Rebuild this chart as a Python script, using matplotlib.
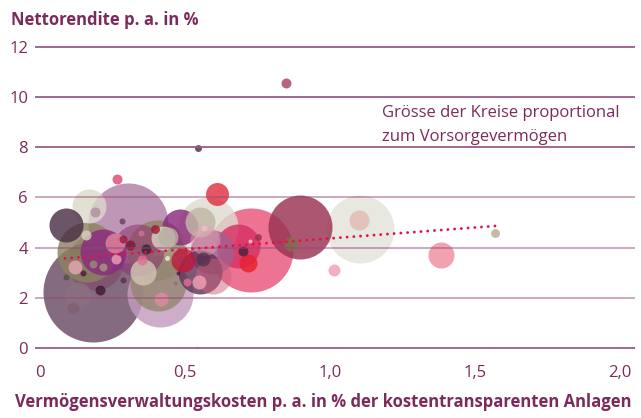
import matplotlib
matplotlib.use("Agg")
import matplotlib.pyplot as plt
import numpy as np

# Vermögensverwaltungskosten p. a. in % (x), Nettorendite p. a. in % (y),
# Vorsorgevermögen (relative, proportional to circle area)
kosten = [0.183, 0.303, 0.414, 0.403, 0.407, 0.190, 0.338, 0.162, 0.728, 1.103,
          0.897, 0.579, 0.217, 0.683, 0.593, 0.552, 0.483, 0.597, 0.552, 0.569,
          0.169, 0.090, 0.131, 0.355, 0.424, 0.493, 0.610, 1.383, 0.259, 1.100,
          0.441, 0.717, 0.866, 0.114, 0.121, 0.562, 0.548, 0.417, 1.014, 0.262,
          0.207, 0.366, 0.310, 0.352, 0.848, 0.266, 0.700, 0.159, 0.190, 0.397,
          1.569, 0.183, 0.217, 0.507, 0.286, 0.545, 0.752, 0.148, 0.090, 0.286,
          0.283, 0.348, 0.566, 0.438, 0.724, 0.466, 0.476, 0.483, 0.541]
rendite = [2.23, 4.98, 2.15, 3.90, 2.59, 3.43, 3.90, 3.82, 3.90, 4.74,
           4.82, 4.82, 3.82, 4.06, 3.82, 3.03, 4.82, 2.87, 5.02, 4.30,
           5.66, 4.90, 2.11, 3.03, 4.38, 3.51, 6.14, 3.71, 4.18, 5.10,
           4.42, 3.39, 4.14, 1.59, 3.23, 3.55, 2.63, 1.95, 3.11, 3.55,
           2.31, 3.94, 4.10, 3.51, 10.56, 6.73, 3.86, 4.50, 5.42, 4.74,
           4.58, 3.35, 3.23, 2.63, 4.34, 7.97, 4.42, 2.99, 2.83, 2.71,
           5.06, 4.58, 4.78, 3.59, 4.26, 2.59, 2.99, 3.51, 0.04]
vermoegen = [25.0, 16.0, 10.9, 9.0, 7.84, 7.84, 6.76, 9.0, 17.64, 11.56,
             10.24, 9.0, 5.29, 4.84, 4.84, 4.84, 3.24, 3.24, 2.25, 2.25,
             2.89, 2.89, 1.69, 1.69, 1.44, 1.44, 1.32, 1.69, 1.0, 1.0,
             1.0, 0.81, 0.49, 0.36, 0.49, 0.49, 0.49, 0.49, 0.36, 0.25,
             0.25, 0.25, 0.25, 0.25, 0.25, 0.25, 0.25, 0.25, 0.25, 0.2,
             0.2, 0.16, 0.16, 0.16, 0.16, 0.12, 0.12, 0.09, 0.09, 0.09,
             0.09, 0.09, 0.09, 0.06, 0.04, 0.04, 0.04, 0.04, 0.01]
farben = ["#6a4a63", "#b07fa6", "#c49bbd", "#908562", "#958672", "#7a4060", "#8c2a6e", "#8c8360", "#e8557a", "#e4e2da",
          "#993252", "#dedbd0", "#8c2a80", "#d83062", "#a06090", "#5e3558", "#8a2a7a", "#d0607a", "#c0b8a8", "#e8a0b0",
          "#dcd8ca", "#4d2f48", "#8a6f80", "#cfc5b5", "#d8d0c0", "#c0183a", "#e03040", "#f08c9c", "#e0849a", "#e0bcb2",
          "#b8b0a0", "#e82030", "#807050", "#806070", "#e8a5b3", "#5a3050", "#f0a0b0", "#e08aa0", "#f0a0b5", "#e8a0b5",
          "#3d1a35", "#3a2035", "#7a1a30", "#e07090", "#a84560", "#e04870", "#4a2040", "#d8d0c0", "#b090a0", "#a01a30",
          "#b8ae90", "#9a8a70", "#a89880", "#e07090", "#9a1a40", "#4e2a48", "#9a3050", "#4a1f3a", "#5a5040", "#5a3050",
          "#6a4060", "#d070a0", "#f0c0c8", "#eeeedd", "#f0d0d0", "#9a6a80", "#4a2040", "#8a3a7a", "#c0c0b0"]

# Trendlinie
trend_x = [0.086, 1.569]
trend_y = [3.57, 4.86]

yticks = [0, 2, 4, 6, 8, 10, 12]
xticks = [0, 0.5, 1.0, 1.5, 2.0]
xticklabels = ["0", "0,5", "1,0", "1,5", "2,0"]

text_col = "#7b2b5b"
plt.rcParams["font.family"] = ["Open Sans", "DejaVu Sans"]

fig = plt.figure(figsize=(6.41, 4.18), dpi=100)
ax = fig.add_axes([35 / 641, 63 / 418, 600 / 641, 315 / 418])
ax.set_xlim(-0.0172, 2.0517)
ax.set_ylim(-0.28, 12.27)

sizes = np.array(vermoegen) * 207.36
faint = ("#7a4060", "#8c2a6e", "#e8a0b0", "#d0607a")
alphas = [0.5 if c in faint else 0.82 for c in farben]
for xi, yi, si, ci, ai in zip(kosten, rendite, sizes, farben, alphas):
    ax.scatter(xi, yi, s=si, color=ci, alpha=ai, linewidths=0, zorder=2, clip_on=False)

# gridlines drawn above the circles
for yv in yticks:
    if yv in (2, 4, 6):
        ax.axhline(yv, color="#93457a", alpha=0.5, lw=1.3, zorder=3)
    else:
        ax.axhline(yv, color="#9a5a88", lw=1.3, zorder=3)

ax.plot(trend_x, trend_y, color="#e3124b", lw=2.1,
        linestyle=(0, (0.01, 2.3)), dash_capstyle="round", zorder=4)

for s in ax.spines.values():
    s.set_visible(False)
ax.set_yticks(yticks)
ax.set_yticklabels([str(v) for v in yticks])
ax.set_xticks(xticks)
ax.set_xticklabels(xticklabels)
ax.tick_params(axis="y", length=0, pad=5, labelsize=12, labelcolor=text_col)
ax.tick_params(axis="x", length=0, pad=7, labelsize=12, labelcolor=text_col)

fig.text(11 / 641, 1 - 20 / 418, "Nettorendite p. a. in %", ha="left", va="center",
         fontsize=12, fontweight="bold", color=text_col)
fig.text(323 / 641, 1 - 402 / 418,
         "Vermögensverwaltungskosten p. a. in % der kostentransparenten Anlagen",
         ha="center", va="center", fontsize=12, fontweight="bold", color=text_col)
fig.text(382 / 641, 1 - 113 / 418, "Grösse der Kreise proportional", ha="left",
         va="center", fontsize=12, color=text_col)
fig.text(382 / 641, 1 - 137 / 418, "zum Vorsorgevermögen", ha="left",
         va="center", fontsize=12, color=text_col)

fig.savefig("out.png", dpi=100)
